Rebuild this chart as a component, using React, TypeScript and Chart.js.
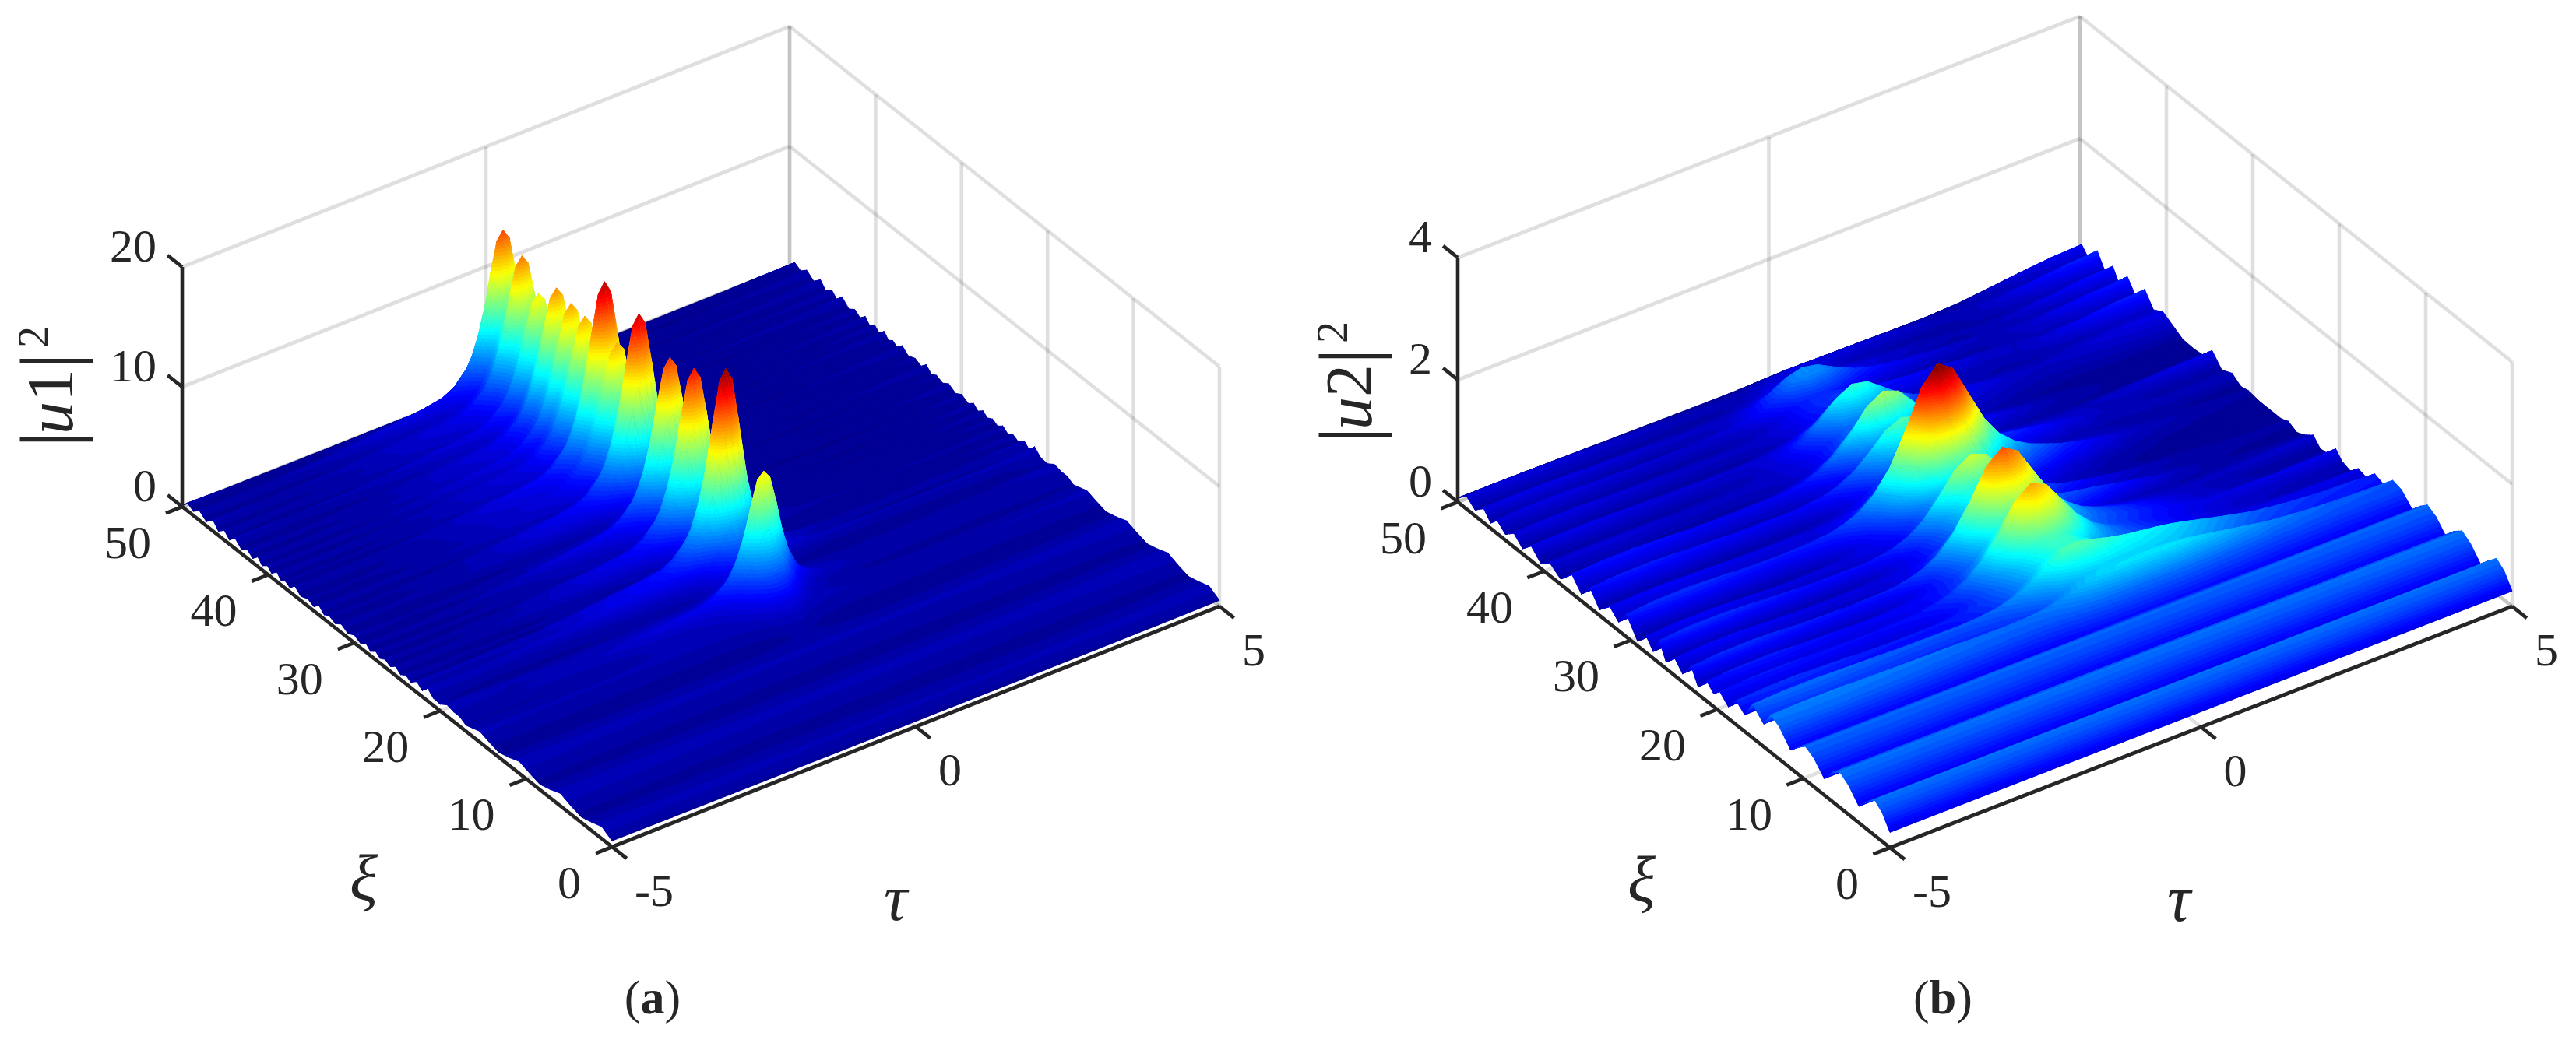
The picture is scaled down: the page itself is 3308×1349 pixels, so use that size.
import React, { useEffect, useRef } from 'react';
import { Chart, registerables } from 'chart.js';

Chart.register(...registerables);

const SERIF = '"Liberation Serif", serif';
const INK = '#262626';
const GRID = 'rgba(38,38,38,0.15)';

const TAU_TICKS = [-5, 0, 5];
const XI_TICKS = [0, 10, 20, 30, 40, 50];

// panel (a), |u1|^2
const U1_Z_TICKS = [0, 10, 20];
const U1_TAU = [
    -5, -4, -3, -2.5, -2, -1.6, -1.3, -1, -0.8, -0.6, -0.5, -0.4, -0.3, -0.2, -0.1, 0,
    0.1, 0.2, 0.3, 0.4, 0.5, 0.6, 0.8, 1, 1.3, 1.6, 2, 2.5, 3, 4, 5,
];
const U1_PULSE = [
    0, 0.01, 0.03, 0.05, 0.075, 0.095, 0.11, 0.13, 0.17, 0.25, 0.32, 0.43, 0.58, 0.78, 0.95, 1,
    0.94, 0.74, 0.5, 0.33, 0.22, 0.15, 0.08, 0.05, 0.03, 0.018, 0.01, 0.005, 0.002, 0, 0,
];
const U1_FLOOR = [
    1, 0.75, 0.6, 0.55, 0.5, 0.45, 0.4, 0.4, 0.4, 0.4, 0.4, 0.4, 0.4, 0.4, 0.4, 0.4,
    0.4, 0.4, 0.4, 0.4, 0.4, 0.4, 0.4, 0.4, 0.4, 0.4, 0.45, 0.5, 0.55, 0.7, 1,
];
const U1_XI = [
    0, 1.2, 2.4, 3.6, 4.8, 6, 7.2, 8.4, 9.6, 10.8,
    12, 13.2, 14.4, 15.4, 16.2, 17, 17.7, 18.4, 19.2, 20,
    20.8, 21.5, 22.1, 22.7, 23.4, 24, 24.6, 25.2, 25.8, 26.4,
    27, 27.5, 28.1, 28.6, 29.2, 30, 30.7, 31.5, 32.2, 32.9,
    33.5, 34.1, 34.7, 35.4, 36.2, 36.9, 37.5, 38, 38.5, 39,
    39.6, 40.1, 40.7, 41.2, 41.8, 42.4, 43.1, 43.9, 44.5, 45.1,
    45.8, 46.4, 47.2, 48, 48.7, 49.4, 50,
];
const U1_LEVEL = [
    0.1, 0.2, 0.1, 0.05, 0.1, 0.2, 0.1, 0.05, 0.1, 0.2,
    0.1, 0.05, 0.1, 0.2, 0.2, 0.2, 0.4, 0.3, 0.6, 0.4,
    0.3, 0.6, 0.3, 0.5, 0.3, 0.6, 0.3, 0.5, 0.3, 0.6,
    0.3, 0.5, 0.3, 0.6, 0.3, 0.5, 0.3, 0.6, 0.3, 0.5,
    0.3, 0.7, 0.3, 0.5, 0.3, 0.7, 0.3, 0.5, 0.3, 0.7,
    0.3, 0.6, 0.3, 0.7, 0.3, 0.6, 0.3, 0.8, 0.3, 0.7,
    0.3, 0.8, 0.3, 0.7, 0.3, 0.6, 0.1,
];
const U1_BODY = [
    0.4, 0.8, 0.6, 0.4, 0.6, 0.85, 0.6, 0.4, 0.6, 0.8,
    0.55, 0.35, 0.55, 0.7, 0.5, 0.3, 0.4, 0.5, 0.35, 0.15,
    0.3, 0.5, 0.2, 0.4, 0.15, 0.1, 0.1, 0.25, 0.1, 0.05,
    0.1, 0.2, 0.05, 0.1, 0.05, 0.15, 0.05, 0.1, 0.05, 0.1,
    0.05, 0.1, 0.05, 0.1, 0.05, 0.1, 0.05, 0.1, 0.05, 0.1,
    0.05, 0.1, 0.05, 0.1, 0.05, 0.1, 0.05, 0.1, 0.05, 0.1,
    0.05, 0.1, 0.05, 0.1, 0.05, 0.05, 0,
];
const U1_CREST = [
    0, 0, 0, 0, 0, 0, 0, 0, 0, 0,
    0.1, 0.2, 0.4, 1, 3, 6.5, 10.7, 6.5, 3, 2.5,
    5, 12, 17, 12, 5, 3.5, 6, 11, 15, 10.5,
    5.5, 5, 10, 14.2, 10, 5, 4.5, 11, 16, 10.5,
    7, 8.5, 12.2, 10.5, 16.4, 11, 8, 10, 12.2, 9.5,
    9, 12.2, 9.5, 9, 12.7, 9, 7.5, 10.8, 8, 8.5,
    13.1, 9, 8, 13.8, 8, 2.5, 0.3,
];

// panel (b), |u2|^2
const U2_Z_TICKS = [0, 2, 4];
const U2_TAU = [
    -5, -4.5, -4, -3.5, -3, -2.5, -2, -1.75, -1.5, -1.25, -1, -0.75, -0.5, -0.25, 0,
    0.25, 0.5, 0.75, 1, 1.25, 1.5, 1.75, 2, 2.5, 3, 3.5, 4, 4.5, 5,
];
const U2_PULSE = [
    0, 0.002, 0.005, 0.01, 0.015, 0.025, 0.05, 0.075, 0.11, 0.17, 0.27, 0.43, 0.66, 0.9, 1,
    0.9, 0.66, 0.43, 0.27, 0.17, 0.11, 0.075, 0.05, 0.025, 0.015, 0.01, 0.005, 0.002, 0,
];
const U2_LEFT_WAVE = [
    0.9, 1, 1, 0.9, 0.8, 0.7, 0.6, 0.5, 0.45, 0.35, 0.25, 0.15, 0.08, 0.03, 0,
    0, 0, 0, 0, 0, 0, 0, 0, 0, 0, 0, 0, 0, 0,
];
const U2_RIGHT_WAVE = [
    0, 0, 0, 0, 0, 0, 0, 0, 0, 0, 0, 0, 0, 0.1, 0.3,
    0.5, 0.7, 0.85, 0.95, 1, 1, 0.95, 0.85, 0.6, 0.35, 0.2, 0.1, 0.05, 0,
];
const U2_EDGE_WAVE = [
    0, 0, 0, 0, 0, 0, 0, 0, 0, 0, 0, 0, 0, 0, 0,
    0, 0, 0, 0, 0, 0, 0, 0, 0.05, 0.2, 0.45, 0.7, 0.9, 1,
];
const U2_XI = [
    0, 0.9, 1.8, 2.7, 3.6, 4.8, 5.8, 6.7, 7.6, 8.8,
    9.8, 10.6, 11.5, 12.8, 13.8, 14.6, 15.9, 16.8, 17.8, 18.7,
    19.7, 20.4, 21.2, 22.2, 23, 24, 24.9, 25.9, 26.7, 27.4,
    28.2, 29.2, 30.5, 31.4, 32.4, 33.6, 34.7, 35.7, 36.8, 38.1,
    39.3, 40.4, 41.5, 42.5, 43.5, 44.5, 45.5, 46.2, 47, 48,
    49, 49.8, 50,
];
const U2_LEVEL = [
    0.25, 0.47, 0.58, 0.44, 0.27, 0.48, 0.58, 0.47, 0.27, 0.47,
    0.55, 0.44, 0.27, 0.46, 0.5, 0.3, 0.37, 0.2, 0.14, 0.1,
    0.1, 0.12, 0.06, 0.05, 0.05, 0.04, 0.03, 0.05, 0.03, 0.02,
    0.02, 0.03, 0.03, 0.05, 0.05, 0.04, 0.06, 0.04, 0.02, 0.03,
    0.04, 0.03, 0.06, 0.04, 0.06, 0.04, 0.06, 0.04, 0.05, 0.04,
    0.05, 0.04, 0.04,
];
const U2_EDGE = [
    0, 0, 0, 0, 0, 0, 0, 0, 0, 0,
    0, 0, 0, 0, 0, 0, 0, 0, 0.1, 0,
    0.05, 0.15, 0.03, 0.02, 0.15, 0.05, 0, 0.05, 0.02, 0.03,
    0.03, 0.02, 0.05, 0, 0.1, 0.03, 0.2, 0.03, 0.03, 0.03,
    0.12, 0.22, 0.1, 0.34, 0.08, 0.32, 0.08, 0.3, 0.08, 0.35,
    0.1, 0.25, 0.05,
];
const U2_CREST = [
    0, 0, 0, 0, 0, 0, 0, 0, 0, 0,
    0, 0, 0.03, 0.06, 0.15, 0.3, 0.6, 0.7, 0.9, 1.3,
    1.6, 1.2, 1.1, 1.6, 1.88, 1.2, 0.8, 1, 1.35, 0.8,
    0.9, 1.7, 2.38, 1.5, 0.7, 0.6, 1.05, 0.55, 1.27, 0.6,
    0.55, 0.95, 0.5, 0.3, 0.3, 0.35, 0.55, 0.6, 0.3, 0.2,
    0.12, 0.05, 0.02,
];
const U2_LEFT = [
    0, 0, 0, 0, 0, 0, 0, 0, 0, 0,
    0, 0, 0.03, 0.08, 0.12, 0.08, 0.2, 0.08, 0.28, 0.1,
    0.25, 0.1, 0.3, 0.08, 0.35, 0.1, 0.28, 0.06, 0.38, 0.1,
    0.28, 0.05, 0.38, 0.1, 0.25, 0.06, 0.3, 0.08, 0.32, 0.06,
    0.18, 0.06, 0.2, 0.05, 0.18, 0.06, 0.18, 0.05, 0.2, 0.06,
    0.18, 0.06, 0.03,
];
const U2_RIGHT = [
    0, 0, 0, 0, 0, 0, 0, 0, 0, 0,
    0, 0, 0.05, 0.1, 0.35, 0.45, 0.45, 0.4, 0.25, 0.25,
    0.2, 0.2, 0.3, 0.25, 0.15, 0.1, 0.35, 0.1, 0.2, 0.1,
    0.08, 0.1, 0.3, 0.15, 0.08, 0.3, 0.1, 0.05, 0.15, 0.05,
    0.12, 0.2, 0.05, 0.1, 0.2, 0.05, 0.15, 0.05, 0.1, 0.05,
    0.15, 0.05, 0.02,
];

const u1Rows = U1_XI.map((_, i) =>
    U1_TAU.map((_t, j) => U1_BODY[i] + U1_LEVEL[i] * U1_FLOOR[j] + U1_CREST[i] * U1_PULSE[j]));
const u2Rows = U2_XI.map((_, i) =>
    U2_TAU.map((_t, j) => U2_LEVEL[i] + U2_CREST[i] * U2_PULSE[j] + U2_EDGE[i] * U2_EDGE_WAVE[j]
        + U2_LEFT[i] * U2_LEFT_WAVE[j] + U2_RIGHT[i] * U2_RIGHT_WAVE[j]));

type Pt = { x: number; y: number };
type Panel = {
    left: number;
    front: Pt; side: Pt; far: Pt; // floor corners: (-5,0), (-5,50), (5,0)
    boxHeight: number;
    zMax: number;
    cMax: number;
    zTicks: number[];
    tau: number[];
    xi: number[];
    rows: number[][];
    digit: string;
    caption: string;
    xiTitle: Pt;
    tauTitle: Pt;
    zTitle: Pt;
    captionAt: Pt;
};

const PANELS: Panel[] = [
    {
        left: 0,
        front: { x: 786, y: 1088 }, side: { x: 234, y: 651 }, far: { x: 1566, y: 779 },
        boxHeight: 308, zMax: 20, cMax: 17.5, zTicks: U1_Z_TICKS,
        tau: U1_TAU, xi: U1_XI, rows: u1Rows, digit: '1', caption: 'a',
        xiTitle: { x: 467, y: 1134 }, tauTitle: { x: 1150, y: 1160 }, zTitle: { x: 93, y: 575 },
        captionAt: { x: 838, y: 1286 },
    },
    {
        left: 1654,
        front: { x: 773, y: 1089 }, side: { x: 218, y: 645 }, far: { x: 1572, y: 779 },
        boxHeight: 314, zMax: 4, cMax: 2.46, zTicks: U2_Z_TICKS,
        tau: U2_TAU, xi: U2_XI, rows: u2Rows, digit: '2', caption: 'b',
        xiTitle: { x: 454, y: 1136 }, tauTitle: { x: 1144, y: 1161 }, zTitle: { x: 107, y: 569 },
        captionAt: { x: 841, y: 1286 },
    },
];

function project(p: Panel, tau: number, xi: number, z: number): Pt {
    const a = (tau + 5) / 10;
    const b = xi / 50;
    return {
        x: p.front.x + a * (p.far.x - p.front.x) + b * (p.side.x - p.front.x),
        y: p.front.y + a * (p.far.y - p.front.y) + b * (p.side.y - p.front.y) - (z / p.zMax) * p.boxHeight,
    };
}

function jet(k: number): string {
    const v = (k + 0.5) / 64;
    const ch = (c: number) => Math.round(255 * Math.max(0, Math.min(1, 1.5 - Math.abs(4 * v - c))));
    return `rgb(${ch(3)},${ch(2)},${ch(1)})`;
}

type V = { x: number; y: number; z: number };

function clip(poly: V[], level: number, keepAbove: boolean): V[] {
    const out: V[] = [];
    for (let i = 0; i < poly.length; i++) {
        const a = poly[i];
        const b = poly[(i + 1) % poly.length];
        const aIn = keepAbove ? a.z >= level : a.z <= level;
        const bIn = keepAbove ? b.z >= level : b.z <= level;
        if (aIn) out.push(a);
        if (aIn !== bIn) {
            const t = (level - a.z) / (b.z - a.z);
            out.push({ x: a.x + t * (b.x - a.x), y: a.y + t * (b.y - a.y), z: level });
        }
    }
    return out;
}

function tracePolygon(ctx: CanvasRenderingContext2D, poly: V[]) {
    ctx.beginPath();
    poly.forEach((v, i) => (i ? ctx.lineTo(v.x, v.y) : ctx.moveTo(v.x, v.y)));
    ctx.closePath();
}

function fillTriangle(ctx: CanvasRenderingContext2D, tri: V[], cMax: number) {
    const zs = tri.map((v) => v.z);
    const step = cMax / 64;
    const lo = Math.min(63, Math.max(0, Math.floor(Math.min(...zs) / step)));
    const hi = Math.min(63, Math.max(lo, Math.floor(Math.max(...zs) / step)));
    // base coat so that slivers between bands never show through
    tracePolygon(ctx, tri);
    ctx.fillStyle = jet(lo);
    ctx.fill();
    for (let k = lo; k <= hi; k++) {
        let poly = tri;
        if (k > lo) poly = clip(poly, k * step, true);
        if (k < hi && poly.length) poly = clip(poly, (k + 1) * step, false);
        if (poly.length < 3) continue;
        tracePolygon(ctx, poly);
        const c = jet(k);
        ctx.fillStyle = c;
        ctx.strokeStyle = c;
        ctx.fill();
        ctx.stroke();
    }
}

// the surface has no controller in Chart.js, so its vertices sit in a hidden scatter dataset
// and this plugin paints them back to front through the chart's scales
function surfacePlugin(p: Panel) {
    return {
        id: 'surface',
        afterDatasetDraw(chart: any, args: any) {
            const ds = chart.data.datasets[args.index];
            if (ds.label !== 'surface') return;
            const { ctx, scales } = chart;
            const nCols = p.tau.length;
            const vert = (i: number, j: number): V => {
                const d = ds.data[i * nCols + j];
                return { x: scales.x.getPixelForValue(d.x), y: scales.y.getPixelForValue(d.y), z: d.z };
            };
            ctx.save();
            ctx.lineWidth = 0.8;
            ctx.lineJoin = 'round';
            for (let i = p.xi.length - 1; i > 0; i--) {
                for (let j = nCols - 1; j > 0; j--) {
                    const a = vert(i, j);
                    const b = vert(i, j - 1);
                    const c = vert(i - 1, j - 1);
                    const d = vert(i - 1, j);
                    fillTriangle(ctx, [a, b, d], p.cMax);
                    fillTriangle(ctx, [b, c, d], p.cMax);
                }
            }
            ctx.restore();
        },
    };
}

function labelPlugin(p: Panel) {
    return {
        id: 'labels',
        afterDraw(chart: any) {
            const { ctx, scales } = chart;
            const px = (pt: Pt) => ({ x: scales.x.getPixelForValue(pt.x), y: scales.y.getPixelForValue(pt.y) });
            ctx.save();
            ctx.fillStyle = INK;
            ctx.textBaseline = 'middle';
            ctx.font = `60px ${SERIF}`;
            ctx.textAlign = 'right';
            p.zTicks.forEach((t) => {
                const a = px(project(p, -5, 50, t));
                ctx.fillText(String(t), a.x - 33, a.y - 23);
            });
            XI_TICKS.forEach((t) => {
                const a = px(project(p, -5, t, 0));
                ctx.fillText(String(t), a.x - 40, a.y + 50);
            });
            ctx.textAlign = 'left';
            TAU_TICKS.forEach((t) => {
                const a = px(project(p, t, 0, 0));
                ctx.fillText(String(t), a.x + 29, a.y + 60);
            });

            ctx.textAlign = 'center';
            ctx.font = `italic 84px ${SERIF}`;
            const xiAt = px(p.xiTitle);
            ctx.fillText('ξ', xiAt.x, xiAt.y);
            const tauAt = px(p.tauTitle);
            ctx.fillText('τ', tauAt.x, tauAt.y);

            // rotated |u1|^2, set run by run with a fixed advance for the tall bars
            const zAt = px(p.zTitle);
            ctx.save();
            ctx.translate(zAt.x, zAt.y);
            ctx.rotate(-Math.PI / 2);
            ctx.textAlign = 'left';
            ctx.textBaseline = 'alphabetic';
            const runs: [string, string, number, number][] = [
                ['|', `104px ${SERIF}`, 5, 17],
                ['u', `italic 84px ${SERIF}`, 0, 42],
                [p.digit, `84px ${SERIF}`, 0, 42],
                ['|', `104px ${SERIF}`, 5, 27],
                ['2', `56px ${SERIF}`, -31, 28],
            ];
            let run = 0;
            runs.forEach(([s, font, dy, advance]) => {
                ctx.font = font;
                ctx.fillText(s, run, dy);
                run += advance;
            });
            ctx.restore();

            // caption with a bold letter
            const capAt = px(p.captionAt);
            ctx.textAlign = 'left';
            ctx.textBaseline = 'middle';
            const capRuns: [string, string][] = [
                ['(', `62px ${SERIF}`],
                [p.caption, `bold 62px ${SERIF}`],
                [')', `62px ${SERIF}`],
            ];
            let capWidth = 0;
            capRuns.forEach(([s, font]) => { ctx.font = font; capWidth += ctx.measureText(s).width; });
            let capX = capAt.x - capWidth / 2;
            capRuns.forEach(([s, font]) => {
                ctx.font = font;
                ctx.fillText(s, capX, capAt.y);
                capX += ctx.measureText(s).width;
            });
            ctx.restore();
        },
    };
}

function buildDatasets(p: Panel) {
    const line = (a: Pt, b: Pt, color: string, width: number, order: number) => ({
        type: 'scatter' as const,
        label: 'line',
        data: [a, b],
        showLine: true,
        borderColor: color,
        borderWidth: width,
        pointRadius: 0,
        order,
    });
    const grid = (a: Pt, b: Pt) => line(a, b, GRID, 4.6, 2);
    const axis = (a: Pt, b: Pt) => line(a, b, INK, 4.6, 0);
    const out: any[] = [];
    const zTop = p.zTicks[p.zTicks.length - 1];

    p.zTicks.forEach((z) => {
        out.push(grid(project(p, -5, 50, z), project(p, 5, 50, z)));
        out.push(grid(project(p, 5, 50, z), project(p, 5, 0, z)));
    });
    TAU_TICKS.forEach((t) => {
        out.push(grid(project(p, t, 0, 0), project(p, t, 50, 0)));
        if (t > -5) out.push(grid(project(p, t, 50, 0), project(p, t, 50, zTop)));
    });
    XI_TICKS.forEach((x) => {
        out.push(grid(project(p, -5, x, 0), project(p, 5, x, 0)));
        out.push(grid(project(p, 5, x, 0), project(p, 5, x, zTop)));
    });

    const vertices: any[] = [];
    p.rows.forEach((row, i) => row.forEach((z, j) => {
        const at = project(p, p.tau[j], p.xi[i], z);
        vertices.push({ x: at.x, y: at.y, z });
    }));
    out.push({ type: 'scatter', label: 'surface', data: vertices, pointRadius: 0, order: 1 });

    out.push(axis(project(p, -5, 50, 0), project(p, -5, 50, zTop)));
    out.push(axis(project(p, -5, 50, 0), project(p, -5, 0, 0)));
    out.push(axis(project(p, -5, 0, 0), project(p, 5, 0, 0)));
    p.zTicks.forEach((z) => out.push(axis(project(p, -5, 50, z), project(p, -5, 51.7, z))));
    XI_TICKS.forEach((x) => out.push(axis(project(p, -5, x, 0), project(p, -5.27, x, 0))));
    TAU_TICKS.forEach((t) => out.push(axis(project(p, t, 0, 0), project(p, t, -1.7, 0))));
    return out;
}

const SurfacePanel: React.FC<{ panel: Panel }> = ({ panel }) => {
    const canvasRef = useRef<HTMLCanvasElement>(null);

    useEffect(() => {
        if (!canvasRef.current) return;
        const chart = new Chart(canvasRef.current, {
            type: 'scatter',
            data: { datasets: buildDatasets(panel) },
            options: {
                responsive: false,
                animation: false,
                devicePixelRatio: 1,
                events: [],
                layout: { padding: 0 },
                plugins: { legend: { display: false }, tooltip: { enabled: false } },
                scales: {
                    x: { type: 'linear', display: false, min: 0, max: 1654 },
                    y: { type: 'linear', display: false, min: 0, max: 1349, reverse: true },
                },
            },
            plugins: [surfacePlugin(panel), labelPlugin(panel)],
        } as any);
        return () => { chart.destroy(); };
    }, [panel]);

    return (
        <canvas
            ref={canvasRef}
            width={1654}
            height={1349}
            style={{ position: 'absolute', left: panel.left, top: 0, width: 1654, height: 1349, display: 'block' }}
        />
    );
};

export default function App() {
    return (
        <div style={{ position: 'absolute', left: 0, top: 0, width: 3308, height: 1349, background: '#fff', overflow: 'hidden' }}>
            {PANELS.map((p) => <SurfacePanel key={p.caption} panel={p} />)}
        </div>
    );
}
